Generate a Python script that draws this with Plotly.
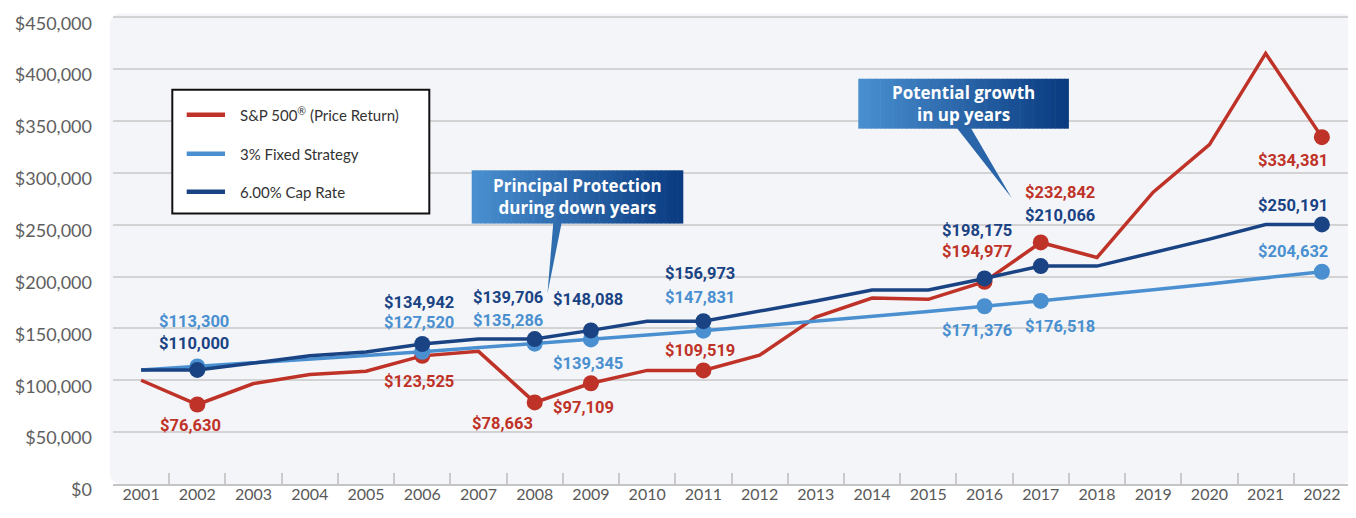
import plotly.graph_objects as go

# ---------------- data ----------------
years = [str(y) for y in range(2001, 2023)]
sp500 = [100000, 76630, 96845, 105552, 108718, 123525, 127886, 78663, 97109, 109520, 109519,
         124206, 160971, 179306, 177997, 194977, 232842, 218313, 281362, 327111, 415071, 334381]
fixed3 = [110000, 113300, 116699, 120200, 123806, 127520, 131346, 135286, 139345, 143525, 147831,
          152266, 156834, 161539, 166385, 171376, 176518, 181813, 187268, 192886, 198672, 204632]
cap6 = [110000, 110000, 116600, 123596, 127303, 134942, 139706, 139706, 148088, 156973, 156973,
        166391, 176375, 186957, 186957, 198175, 210066, 210066, 222670, 236030, 250191, 250191]
marker_years = ["2002", "2006", "2008", "2009", "2011", "2016", "2017", "2022"]
series_names = ["S&P 500® (Price Return)", "3% Fixed Strategy", "6.00% Cap Rate"]
legend_texts = ["S&amp;P 500<sup>®</sup> (Price Return)", "3% Fixed Strategy", "6.00% Cap Rate"]
y_tick_vals = [0, 50000, 100000, 150000, 200000, 250000, 300000, 350000, 400000, 450000]
y_tick_text = ["$0", "$50,000", "$100,000", "$150,000", "$200,000", "$250,000",
               "$300,000", "$350,000", "$400,000", "$450,000"]
callout_texts = ["Principal Protection<br>during down years", "Potential growth<br>in up years"]

# ---------------- styles / label offsets (pixels) ----------------
RED = "#BF3228"
LBLUE = "#4A90D0"
NAVY = "#1A4384"
colors = [RED, LBLUE, NAVY]
label_dx = [
    [-7, -3, -32, -7, -3, -8, 19, -29],   # S&P
    [-3, -3, -27, -3, -3, -8, 19, -29],   # 3% fixed
    [-3, -3, -27, -3, -3, -8, 19, -29],   # cap
]
label_dy = [
    [-21, -26, -21, -24, 20, 30, 50, -23],
    [45, 29, 23, -24, 33, -24, -26, 20],
    [26, 42, 42, 31, 48, 48, 51, 19],
]

# page geometry (the page body adds an 8px margin around the figure)
OFF = 8
PAGE_W, PAGE_H = 1356, 518
FIG_W, FIG_H = PAGE_W - OFF, PAGE_H - OFF
PL, PR, PB = 113, 1350, 484          # plot left / right / bottom in page px
Y_GRID_TOP = 450000
PX_PER = (PB - 16.7) / Y_GRID_TOP     # px per dollar
Y_MAX = 455000
PT = PB - Y_MAX * PX_PER


def X(p):
    return (p - PL) / (PR - PL)


def Y(p):
    return (PB - p) / (PB - PT)


fig = go.Figure()
all_series = [sp500, fixed3, cap6]
for name, vals, col in zip(series_names, all_series, colors):
    fig.add_trace(go.Scatter(x=years, y=vals, mode="lines", name=name,
                             line=dict(color=col, width=3.5), showlegend=False,
                             hoverinfo="skip"))
    mv = [vals[years.index(yy)] for yy in marker_years]
    fig.add_trace(go.Scatter(x=marker_years, y=mv, mode="markers", name=name,
                             marker=dict(color=col, size=16), showlegend=False,
                             hoverinfo="skip"))

annotations = []
label_font = "Roboto, Liberation Sans, sans-serif"
for si, (vals, col) in enumerate(zip(all_series, colors)):
    for mi, yy in enumerate(marker_years):
        idx = years.index(yy)
        v = vals[idx]
        annotations.append(dict(
            x=idx, y=v, xref="x", yref="y", text="$" + f"{v:,.0f}", showarrow=False,
            xanchor="center", yanchor="middle",
            xshift=label_dx[si][mi], yshift=label_dy[si][mi],
            font=dict(family=label_font, size=16.5, color=col, weight="bold")))

shapes = []
# background panel (rounded)
x0, y0, x1, y1, r = 110, 13, 1352.7, 484, 12
panel = (f"M {X(x0+r)},{Y(y0)} L {X(x1-r)},{Y(y0)} Q {X(x1)},{Y(y0)} {X(x1)},{Y(y0+r)} "
         f"L {X(x1)},{Y(y1-r)} Q {X(x1)},{Y(y1)} {X(x1-r)},{Y(y1)} "
         f"L {X(x0+r)},{Y(y1)} Q {X(x0)},{Y(y1)} {X(x0)},{Y(y1-r)} "
         f"L {X(x0)},{Y(y0+r)} Q {X(x0)},{Y(y0)} {X(x0+r)},{Y(y0)} Z")
shapes.append(dict(type="path", path=panel, xref="paper", yref="paper",
                   fillcolor="#F4F5F9", line=dict(width=0), layer="below"))

# legend box
lx0, ly0, lx1, ly1 = 172.3, 89.3, 429.3, 213.3
shapes.append(dict(type="rect", xref="paper", yref="paper", x0=X(lx0), x1=X(lx1),
                   y0=Y(ly1), y1=Y(ly0), fillcolor="white",
                   line=dict(color="#111111", width=2), layer="above"))
legend_rows = [114.3, 153.5, 191.5]
for ry, col, txt in zip(legend_rows, colors, legend_texts):
    shapes.append(dict(type="line", xref="paper", yref="paper", x0=X(186.7), x1=X(225),
                       y0=Y(ry), y1=Y(ry), line=dict(color=col, width=4.5), layer="above"))
    annotations.append(dict(x=X(238.3), y=Y(ry), xref="paper", yref="paper", text=txt,
                            showarrow=False, xanchor="left", yanchor="middle",
                            font=dict(family="Lato", size=15, color="#333333")))


def lerp_col(c0, c1, t):
    return "rgb(%d,%d,%d)" % tuple(round(a + (b - a) * t) for a, b in zip(c0, c1))


G0 = (74, 144, 208)
G1 = (9, 58, 128)
callouts = [
    dict(box=(471.7, 170, 682.7, 223.3), tri=((553.3, 223.3), (561.7, 223.3), (547.5, 293)),
         text_xy=(577, 196.5)),
    dict(box=(858.3, 78.3, 1068.3, 128.3), tri=((956.7, 128.3), (970.7, 128.3), (1011.7, 197.7)),
         text_xy=(963.3, 103)),
]
N = 48
for ci, c in enumerate(callouts):
    bx0, by0, bx1, by1 = c["box"]
    w = (bx1 - bx0) / N
    for k in range(N):
        shapes.append(dict(type="rect", xref="paper", yref="paper",
                           x0=X(bx0 + k * w), x1=X(bx0 + (k + 1) * w + 0.6),
                           y0=Y(by1), y1=Y(by0),
                           fillcolor=lerp_col(G0, G1, (k + 0.5) / N),
                           line=dict(width=0), layer="above"))
    (ax, ay), (bx, by), (tx, ty) = c["tri"]
    t = ((ax + bx) / 2 - bx0) / (bx1 - bx0)
    shapes.append(dict(type="path", xref="paper", yref="paper",
                       path=f"M {X(ax)},{Y(ay-1)} L {X(bx)},{Y(by-1)} L {X(tx)},{Y(ty)} Z",
                       fillcolor=lerp_col(G0, G1, t), line=dict(width=0), layer="above"))
    cx, cy = c["text_xy"]
    annotations.append(dict(x=X(cx), y=Y(cy), xref="paper", yref="paper",
                            text=callout_texts[ci], showarrow=False,
                            xanchor="center", yanchor="middle", align="center",
                            font=dict(family="Open Sans", size=17, color="white", weight="bold")))

fig.update_layout(
    width=FIG_W, height=FIG_H,
    margin=dict(l=PL - OFF, r=OFF + FIG_W - PR, t=PT - OFF, b=OFF + FIG_H - PB,
                pad=0, autoexpand=False),
    paper_bgcolor="white", plot_bgcolor="rgba(0,0,0,0)",
    showlegend=False,
    shapes=shapes, annotations=annotations,
    font=dict(family="Lato", color="#595959"),
    xaxis=dict(type="category", categoryorder="array", categoryarray=years,
               range=[-0.5, len(years) - 0.5], showgrid=False, automargin=False,
               showline=True, linecolor="#C4C4C4", linewidth=2,
               ticks="inside", tickson="boundaries", ticklen=11, tickwidth=1.5,
               tickcolor="#CACACA", ticklabelstandoff=-5,
               tickfont=dict(family="Lato", size=16, color="#595959"),
               fixedrange=True),
    yaxis=dict(range=[0, Y_MAX], tickvals=y_tick_vals, ticktext=y_tick_text,
               showgrid=True, gridcolor="#D3D3D3", gridwidth=2, zeroline=False,
               automargin=False, showline=False, ticks="", ticklabelstandoff=20,
               ticklabelshift=6, ticklabeloverflow="allow",
               tickfont=dict(family="Lato", size=18, color="#5E5E5E"), fixedrange=True),
)

fig.write_html("out.html", config=dict(displayModeBar=False))
